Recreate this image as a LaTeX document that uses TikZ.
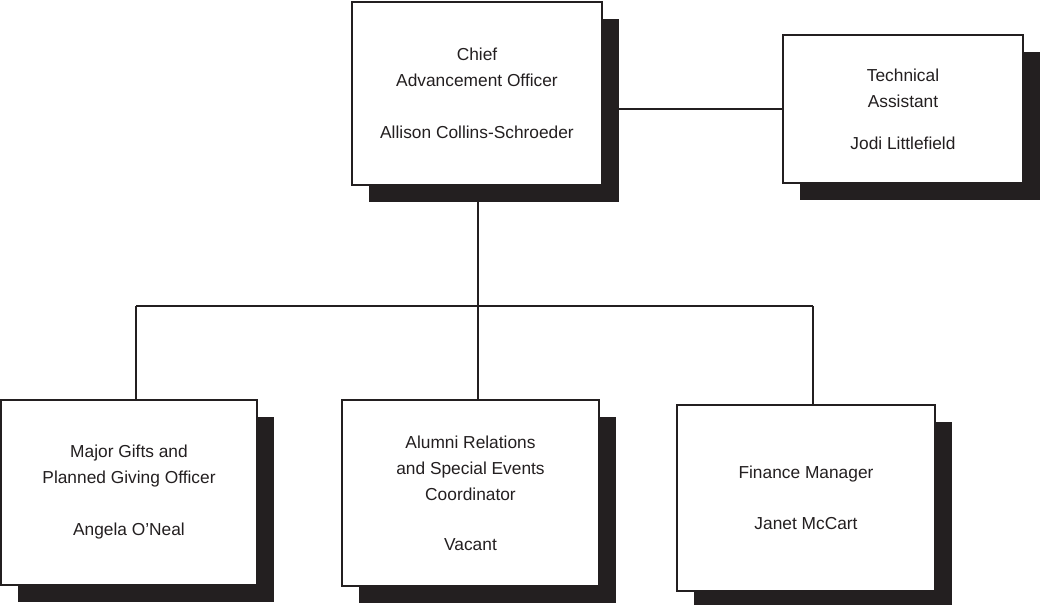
\documentclass[tikz,border=0pt]{standalone}
\usepackage{fontspec}
\setmainfont{Liberation Sans}
\usetikzlibrary{shadows}
\definecolor{ink}{HTML}{231F20}
\begin{document}
\begin{tikzpicture}
      [%%%%%%%%%%%%%%%%%%%%%%%%%%%%%%
          x=0.75pt, y=-0.75pt,
          box/.style={rectangle,draw=ink,line width=1.1pt,fill=white,
            align=center,font=\fontsize{13}{19.5}\selectfont,text=ink,
            drop shadow={shadow xshift=12.75pt,shadow yshift=-12.75pt,
              opacity=1,fill=ink}},
          link/.style={draw=ink,line width=1.1pt}
      ]%%%%%%%%%%%%%%%%%%%%%%%%%%%%%%

  \useasboundingbox (0,0) rectangle (1040,605);

  % top row
  \node[box,minimum width=187.5pt,minimum height=137.25pt] (chief) at (477,93.5)
      {Chief\\Advancement Officer\\[19.5pt]Allison Collins-Schroeder};
  \node[box,minimum width=180pt,minimum height=111pt] (tech) at (903,109)
      {Technical\\Assistant\\[12pt]Jodi Littlefield};

  % bottom row
  \node[box,minimum width=192pt,minimum height=138.75pt] (major) at (129,492.5)
      {Major Gifts and\\Planned Giving Officer\\[19.5pt]Angela O’Neal};
  \node[box,minimum width=192.75pt,minimum height=139.5pt] (alumni) at (470.5,493)
      {Alumni Relations\\and Special Events\\Coordinator\\[18pt]Vacant};
  \node[box,minimum width=193.5pt,minimum height=139.5pt] (finance) at (806,498)
      {Finance Manager\\[18.75pt]Janet McCart};

  % connectors
  \coordinate (bus) at (478,306);
  \coordinate (busL) at (136,306);
  \coordinate (busR) at (813,306);

  \draw[link] (tech.west) -- (tech.west -| chief.east);
  \draw[link] (chief.south -| bus) -- (bus);
  \draw[link] (busL) -- (busR);
  \draw[link] (busL) -- (busL |- major.north);
  \draw[link] (bus) -- (bus |- alumni.north);
  \draw[link] (busR) -- (busR |- finance.north);

  \end{tikzpicture}
\end{document}
